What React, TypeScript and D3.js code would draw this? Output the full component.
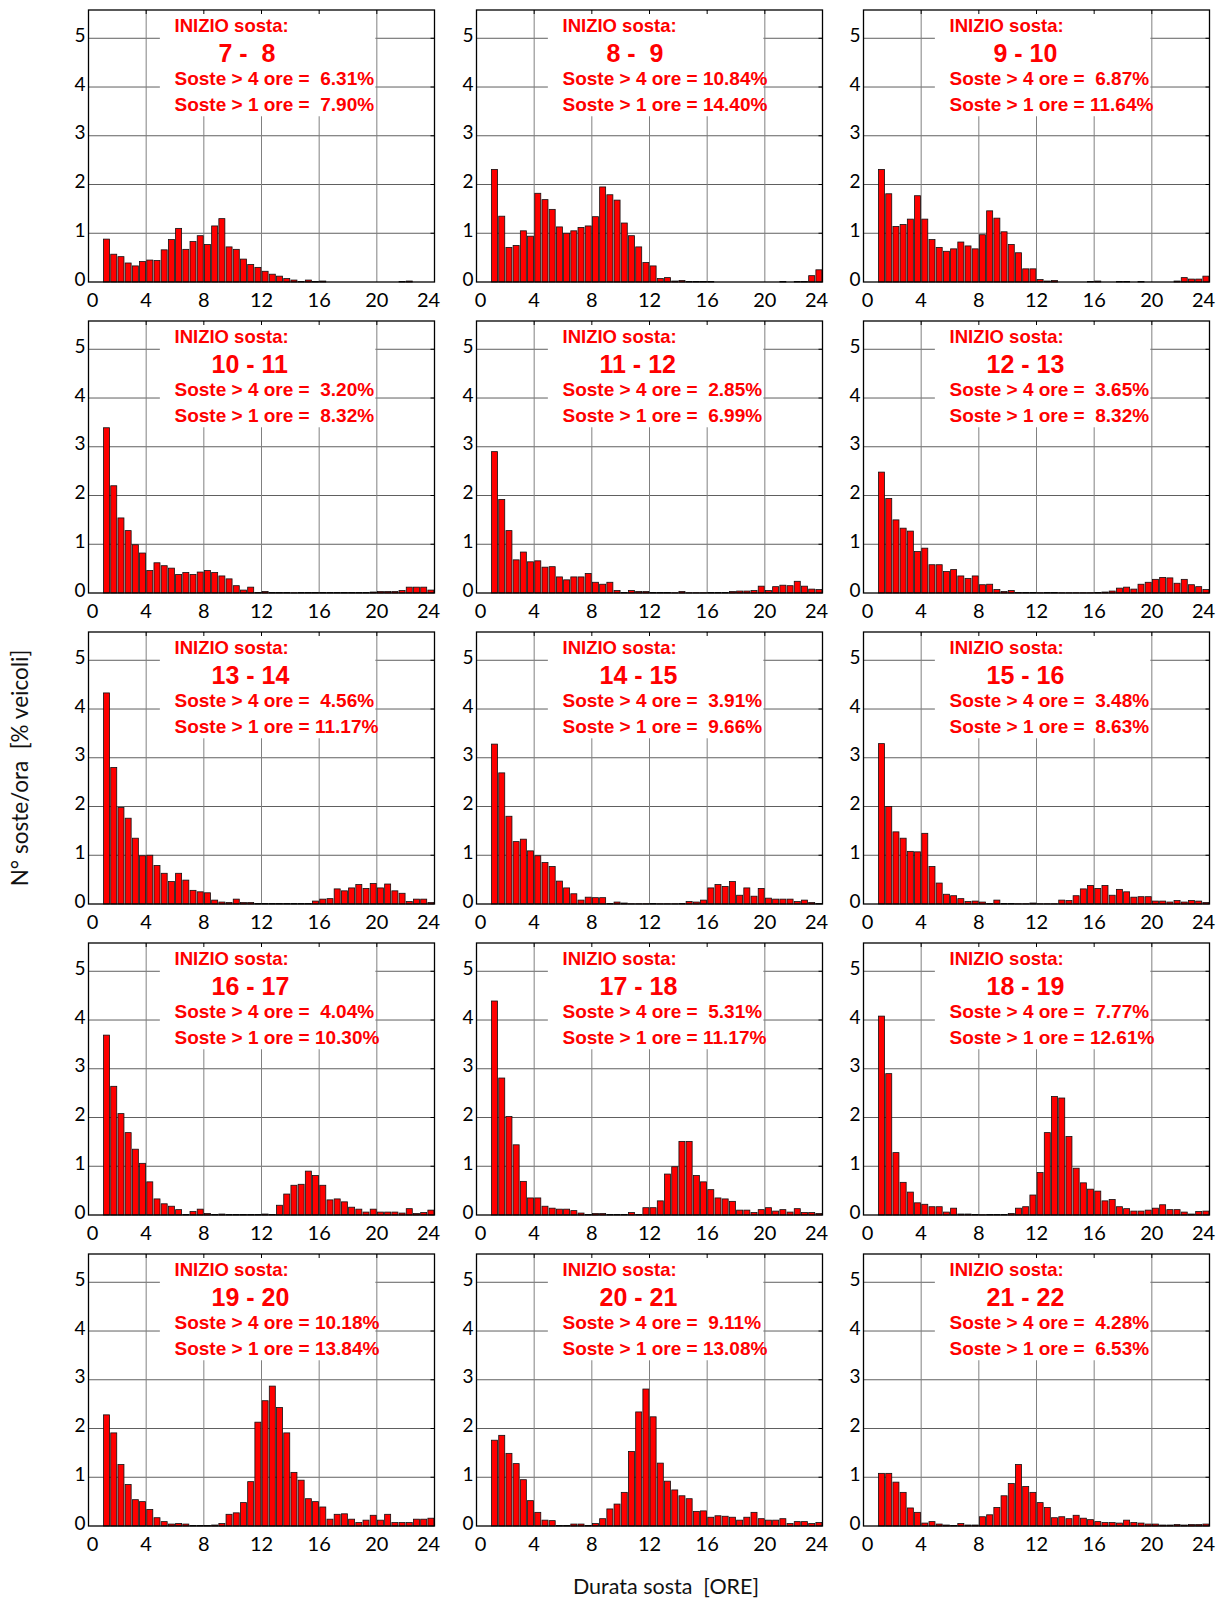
import * as d3 from "d3";
import { useEffect, useRef } from "react";

// half-hour duration bins (start of each bin, hours)
const binStarts = [
  1, 1.5, 2, 2.5, 3, 3.5, 4, 4.5, 5, 5.5, 6, 6.5, 7, 7.5, 8, 8.5,
  9, 9.5, 10, 10.5, 11, 11.5, 12, 12.5, 13, 13.5, 14, 14.5, 15, 15.5, 16, 16.5,
  17, 17.5, 18, 18.5, 19, 19.5, 20, 20.5, 21, 21.5, 22, 22.5, 23, 23.5,
];

const startLabels = [
  " 7 -  8", " 8 -  9", " 9 - 10", "10 - 11", "11 - 12", "12 - 13", "13 - 14", "14 - 15",
  "15 - 16", "16 - 17", "17 - 18", "18 - 19", "19 - 20", "20 - 21", "21 - 22",
];
const over4 = [" 6.31", "10.84", " 6.87", " 3.20", " 2.85", " 3.65", " 4.56", " 3.91", " 3.48", " 4.04", " 5.31", " 7.77", "10.18", " 9.11", " 4.28"];
const over1 = [" 7.90", "14.40", "11.64", " 8.32", " 6.99", " 8.32", "11.17", " 9.66", " 8.63", "10.30", "11.17", "12.61", "13.84", "13.08", " 6.53"];

// % vehicles per bin, one array per start hour
const s07 = [0.88, 0.57, 0.52, 0.39, 0.33, 0.42, 0.45, 0.44, 0.66, 0.87, 1.10, 0.67, 0.83, 0.95, 0.77, 1.15,
  1.30, 0.72, 0.67, 0.47, 0.36, 0.30, 0.22, 0.16, 0.12, 0.07, 0.04, 0.01, 0.04, 0.01, 0.02, 0,
  0, 0, 0, 0, 0, 0, 0, 0, 0, 0.01, 0.02, 0, 0, 0];
const s08 = [2.31, 1.35, 0.71, 0.75, 1.05, 0.94, 1.82, 1.69, 1.49, 1.13, 1.00, 1.05, 1.12, 1.15, 1.34, 1.95,
  1.79, 1.68, 1.21, 0.95, 0.72, 0.40, 0.33, 0.07, 0.09, 0.02, 0.03, 0.01, 0.01, 0.01, 0.01, 0,
  0, 0, 0, 0, 0, 0, 0, 0, 0.01, 0, 0.01, 0.01, 0.13, 0.25];
const s09 = [2.31, 1.81, 1.14, 1.18, 1.29, 1.77, 1.29, 0.87, 0.71, 0.63, 0.68, 0.82, 0.74, 0.68, 0.97, 1.46,
  1.31, 1.03, 0.77, 0.60, 0.27, 0.27, 0.05, 0.02, 0.03, 0, 0, 0, 0, 0.01, 0.02, 0,
  0, 0.01, 0.01, 0, 0.01, 0, 0, 0, 0, 0.02, 0.09, 0.06, 0.06, 0.12];
const s10 = [3.39, 2.20, 1.54, 1.28, 0.99, 0.82, 0.46, 0.62, 0.56, 0.51, 0.38, 0.42, 0.38, 0.43, 0.46, 0.42,
  0.35, 0.29, 0.15, 0.06, 0.12, 0.01, 0.03, 0.01, 0.01, 0.01, 0.005, 0.01, 0.01, 0.01, 0.01, 0.01,
  0.01, 0.01, 0.01, 0.01, 0.01, 0.02, 0.03, 0.03, 0.03, 0.05, 0.12, 0.12, 0.12, 0.06];
const s11 = [2.90, 1.92, 1.28, 0.68, 0.84, 0.64, 0.66, 0.53, 0.54, 0.33, 0.27, 0.33, 0.33, 0.40, 0.22, 0.18,
  0.22, 0.05, 0.01, 0.05, 0.03, 0.03, 0.01, 0.01, 0.01, 0.005, 0.03, 0.005, 0.005, 0.005, 0.01, 0.01,
  0.01, 0.03, 0.04, 0.04, 0.05, 0.14, 0.05, 0.13, 0.16, 0.15, 0.24, 0.14, 0.08, 0.07];
const s12 = [2.48, 1.94, 1.50, 1.33, 1.27, 0.85, 0.92, 0.58, 0.58, 0.44, 0.48, 0.35, 0.30, 0.35, 0.17, 0.18,
  0.07, 0.03, 0.05, 0.01, 0.01, 0.01, 0.005, 0.01, 0.01, 0.005, 0.005, 0.005, 0.005, 0.005, 0.01, 0.02,
  0.04, 0.10, 0.12, 0.08, 0.18, 0.22, 0.28, 0.32, 0.31, 0.20, 0.28, 0.17, 0.13, 0.07];
const s13 = [4.33, 2.80, 1.98, 1.76, 1.35, 0.99, 1.00, 0.79, 0.63, 0.46, 0.63, 0.49, 0.28, 0.25, 0.23, 0.08,
  0.04, 0.03, 0.10, 0.03, 0.03, 0.01, 0.01, 0.01, 0.01, 0.01, 0.01, 0.01, 0.01, 0.06, 0.10, 0.11,
  0.31, 0.27, 0.33, 0.40, 0.32, 0.42, 0.33, 0.41, 0.27, 0.22, 0.05, 0.10, 0.10, 0.03];
const s14 = [3.28, 2.69, 1.80, 1.28, 1.33, 1.09, 0.99, 0.85, 0.77, 0.47, 0.33, 0.21, 0.08, 0.14, 0.13, 0.13,
  0.01, 0.04, 0.02, 0.005, 0.005, 0.005, 0.01, 0.005, 0.005, 0.005, 0.01, 0.05, 0.04, 0.08, 0.33, 0.40,
  0.36, 0.46, 0.18, 0.33, 0.16, 0.32, 0.12, 0.10, 0.10, 0.10, 0.05, 0.08, 0.03, 0.01];
const s15 = [3.29, 2.00, 1.48, 1.35, 1.08, 1.07, 1.45, 0.77, 0.43, 0.20, 0.17, 0.11, 0.05, 0.06, 0.04, 0.01,
  0.08, 0.01, 0.01, 0.005, 0.005, 0.02, 0.005, 0.005, 0.005, 0.08, 0.07, 0.17, 0.31, 0.38, 0.32, 0.38,
  0.18, 0.30, 0.25, 0.14, 0.15, 0.15, 0.06, 0.06, 0.04, 0.07, 0.04, 0.07, 0.06, 0.03];
const s16 = [3.69, 2.64, 2.08, 1.69, 1.35, 1.06, 0.68, 0.33, 0.23, 0.18, 0.11, 0.01, 0.07, 0.12, 0.03, 0.01,
  0.02, 0.01, 0.01, 0.01, 0.01, 0.01, 0.02, 0.01, 0.20, 0.43, 0.61, 0.63, 0.90, 0.81, 0.61, 0.31,
  0.33, 0.27, 0.16, 0.12, 0.06, 0.12, 0.06, 0.06, 0.06, 0.04, 0.13, 0.03, 0.05, 0.10];
const s17 = [4.39, 2.81, 2.02, 1.44, 0.69, 0.35, 0.35, 0.18, 0.14, 0.12, 0.12, 0.09, 0.04, 0.01, 0.03, 0.03,
  0.01, 0.01, 0.01, 0.05, 0.01, 0.15, 0.15, 0.29, 0.84, 0.99, 1.51, 1.51, 0.81, 0.68, 0.52, 0.35,
  0.33, 0.28, 0.10, 0.10, 0.05, 0.11, 0.15, 0.08, 0.11, 0.06, 0.13, 0.05, 0.05, 0.03];
const s18 = [4.08, 2.90, 1.28, 0.67, 0.47, 0.25, 0.22, 0.17, 0.17, 0.06, 0.14, 0.02, 0.02, 0.01, 0.005, 0.01,
  0.01, 0.01, 0.03, 0.14, 0.17, 0.41, 0.87, 1.69, 2.43, 2.40, 1.61, 0.96, 0.66, 0.53, 0.49, 0.29,
  0.32, 0.17, 0.13, 0.08, 0.08, 0.10, 0.14, 0.21, 0.11, 0.11, 0.06, 0.02, 0.07, 0.08];
const s19 = [2.28, 1.91, 1.26, 0.85, 0.54, 0.50, 0.34, 0.17, 0.09, 0.04, 0.05, 0.04, 0.01, 0.01, 0.01, 0.02,
  0.05, 0.24, 0.27, 0.48, 0.91, 2.13, 2.57, 2.87, 2.43, 1.91, 1.10, 0.94, 0.56, 0.50, 0.39, 0.14,
  0.24, 0.25, 0.14, 0.07, 0.12, 0.22, 0.12, 0.24, 0.07, 0.07, 0.07, 0.14, 0.14, 0.16];
const s20 = [1.76, 1.86, 1.49, 1.28, 0.95, 0.52, 0.28, 0.12, 0.11, 0.01, 0.01, 0.04, 0.04, 0.01, 0.05, 0.15,
  0.35, 0.45, 0.69, 1.53, 2.34, 2.81, 2.24, 1.29, 0.92, 0.74, 0.62, 0.56, 0.30, 0.31, 0.18, 0.21,
  0.20, 0.18, 0.12, 0.18, 0.28, 0.15, 0.12, 0.12, 0.15, 0.05, 0.09, 0.09, 0.05, 0.07];
const s21 = [1.08, 1.08, 0.90, 0.69, 0.37, 0.28, 0.06, 0.09, 0.04, 0.02, 0.01, 0.05, 0.02, 0.02, 0.19, 0.23,
  0.38, 0.62, 0.87, 1.26, 0.81, 0.69, 0.48, 0.38, 0.17, 0.19, 0.15, 0.22, 0.16, 0.13, 0.09, 0.07,
  0.07, 0.06, 0.12, 0.07, 0.06, 0.04, 0.04, 0.02, 0.02, 0.03, 0.02, 0.03, 0.03, 0.04];

const series = [s07, s08, s09, s10, s11, s12, s13, s14, s15, s16, s17, s18, s19, s20, s21];

const xTicks = [0, 4, 8, 12, 16, 20, 24];
const yTicks = [0, 1, 2, 3, 4, 5];

// keep the padding spaces of the original labels
const nb = (s: string) => s.replace(/ /g, "\u00a0");

const App = () => {
  const ref = useRef<SVGSVGElement>(null);

  // page and panel geometry
  const width = 1216;
  const height = 1601;
  const colLeft = [88.5, 476.5, 863.5];
  const panelW = 346;
  const panelH = 272;
  const rowTop = (r: number) => 10 + 311 * r;
  const numFont = "Lato, 'Open Sans', sans-serif";
  const redFont = "'Liberation Sans', Arial, sans-serif";

  useEffect(() => {
    if (!ref.current) return;
    const svg = d3.select(ref.current);
    svg.selectAll("*").remove();

    const x = d3.scaleLinear().domain([0, 24]).range([0, panelW]);
    const y = d3.scaleLinear().domain([0, 5.58]).range([panelH, 0]);
    const binW = x(0.5) - x(0);

    series.forEach((vals, i) => {
      const col = i % 3;
      const row = Math.floor(i / 3);
      const g = svg
        .append("g")
        .attr("transform", `translate(${colLeft[col]}, ${rowTop(row)})`);

      // grid
      g.selectAll(".hgrid")
        .data(yTicks.slice(1))
        .enter()
        .append("line")
        .attr("x1", 0)
        .attr("x2", panelW)
        .attr("y1", (d) => y(d))
        .attr("y2", (d) => y(d))
        .attr("stroke", "#606060")
        .attr("stroke-width", 1);
      g.selectAll(".vgrid")
        .data(xTicks.slice(1, -1))
        .enter()
        .append("line")
        .attr("x1", (d) => x(d))
        .attr("x2", (d) => x(d))
        .attr("y1", 0)
        .attr("y2", panelH)
        .attr("stroke", "#808080")
        .attr("stroke-width", 1);

      // white box behind the annotation
      g.append("rect")
        .attr("x", x(4.95))
        .attr("y", 1)
        .attr("width", x(19.9) - x(4.95))
        .attr("height", y(3.4) - 1)
        .attr("fill", "#fff");

      // inward ticks on top / right
      g.selectAll(".ttick")
        .data(xTicks.slice(1, -1))
        .enter()
        .append("line")
        .attr("x1", (d) => x(d))
        .attr("x2", (d) => x(d))
        .attr("y1", 0)
        .attr("y2", 4)
        .attr("stroke", "#000");
      g.selectAll(".rtick")
        .data(yTicks.slice(1))
        .enter()
        .append("line")
        .attr("x1", panelW - 4)
        .attr("x2", panelW)
        .attr("y1", (d) => y(d))
        .attr("y2", (d) => y(d))
        .attr("stroke", "#000");

      // bars
      g.selectAll(".bar")
        .data(vals)
        .enter()
        .append("rect")
        .attr("x", (_d, k) => x(binStarts[k]) + 0.6)
        .attr("y", (d) => y(d))
        .attr("width", binW - 1.2)
        .attr("height", (d) => y(0) - y(d))
        .attr("fill", "#ff0000")
        .attr("stroke", "#111")
        .attr("stroke-width", 0.8);

      // frame
      g.append("rect")
        .attr("x", 0)
        .attr("y", 0)
        .attr("width", panelW)
        .attr("height", panelH)
        .attr("fill", "none")
        .attr("stroke", "#000")
        .attr("stroke-width", 1.3);

      // tick labels
      g.selectAll(".ylab")
        .data(yTicks)
        .enter()
        .append("text")
        .attr("x", -3)
        .attr("y", (d) => y(d) - 4)
        .attr("text-anchor", "end")
        .attr("dominant-baseline", "central")
        .style("font-family", numFont)
        .style("font-size", "19px")
        .style("fill", "#000")
        .text((d) => d);
      g.selectAll(".xlab")
        .data(xTicks)
        .enter()
        .append("text")
        .attr("x", (d) => (d === 0 ? x(d) + 4 : d === 24 ? x(d) - 6 : x(d)))
        .attr("y", panelH + 17)
        .attr("text-anchor", "middle")
        .attr("dominant-baseline", "central")
        .style("font-family", numFont)
        .style("font-size", "20px")
        .style("fill", "#000")
        .text((d) => d);

      // red annotation
      const note = g
        .append("g")
        .style("font-family", redFont)
        .style("font-weight", "bold")
        .style("fill", "#ff0000");
      note.append("text").attr("x", 86).attr("y", 21.5).style("font-size", "18.5px").text("INIZIO sosta:");
      note.append("text").attr("x", 123).attr("y", 51.5).style("font-size", "25px").text(nb(startLabels[i]));
      note.append("text").attr("x", 86).attr("y", 75).style("font-size", "19px").text(nb(`Soste > 4 ore = ${over4[i]}%`));
      note.append("text").attr("x", 86).attr("y", 101).style("font-size", "19px").text(nb(`Soste > 1 ore = ${over1[i]}%`));
    });

    // axis titles
    svg
      .append("text")
      .attr("x", 666)
      .attr("y", 1594)
      .attr("text-anchor", "middle")
      .style("font-family", numFont)
      .style("font-size", "21.5px")
      .style("fill", "#111")
      .text(nb("Durata sosta  [ORE]"));
    svg
      .append("text")
      .attr("transform", "translate(19, 768) rotate(-90)")
      .attr("text-anchor", "middle")
      .attr("dominant-baseline", "central")
      .style("font-family", numFont)
      .style("font-size", "22.5px")
      .style("fill", "#111")
      .text(nb("N° soste/ora  [% veicoli]"));
  }, []);

  return (
    <svg
      ref={ref}
      width={width}
      height={height}
      style={{ position: "absolute", left: 0, top: 0, background: "#fff", display: "block" }}
    ></svg>
  );
};

export default App;
